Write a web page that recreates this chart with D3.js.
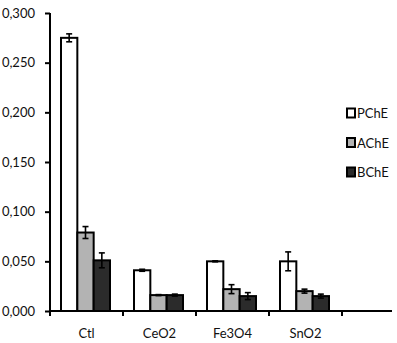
<!DOCTYPE html>
<html>
<head>
<meta charset="utf-8">
<script src="https://cdn.jsdelivr.net/npm/d3@7"></script>
<style>
  body { margin: 0; background: #fff; }
  text { font-family: Lato, "Open Sans", sans-serif; fill: #111; }
</style>
</head>
<body>
<svg id="chart"></svg>
<script>
const categories = ['Ctl', 'CeO2', 'Fe3O4', 'SnO2']
const series = ['PChE', 'AChE', 'BChE']
const pcheValues = [0.275, 0.041, 0.050, 0.050]
const pcheErrors = [0.004, 0.001, 0.0005, 0.0095]
const acheValues = [0.079, 0.016, 0.022, 0.020]
const acheErrors = [0.006, 0.0005, 0.0045, 0.002]
const bcheValues = [0.051, 0.016, 0.015, 0.015]
const bcheErrors = [0.0075, 0.001, 0.0035, 0.002]
const yTicks = [0, 0.05, 0.1, 0.15, 0.2, 0.25, 0.3]

const fills = { PChE: '#ffffff', AChE: '#b3b3b3', BChE: '#2b2b2b' }

const width = 397
const height = 343
const plot = { left: 50, right: 342, axisEnd: 392, top: 13, bottom: 311 }

const svg = d3.select('#chart')
    .attr('width', width)
    .attr('height', height)

const x = d3.scaleBand()
    .domain(categories)
    .range([plot.left, plot.right])

const xInner = d3.scaleBand()
    .domain(series)
    .range([11, 60])

const y = d3.scaleLinear()
    .domain([0, 0.3])
    .range([plot.bottom, plot.top])

const fmt = v => d3.format('.3f')(v).replace('.', ',')

// y axis
const yAxis = svg.append('g')
    .attr('transform', `translate(${plot.left},0)`)
    .call(d3.axisLeft(y).tickValues(yTicks).tickSize(5).tickFormat(fmt))
yAxis.select('.domain').remove()
yAxis.selectAll('.tick line').attr('stroke', '#000').attr('stroke-width', 2)
yAxis.selectAll('.tick text')
    .attr('x', -15)
    .style('font-size', '13px')
    .style('font-family', 'Lato, sans-serif')
    .attr('fill', '#111')

svg.append('line')
    .attr('x1', plot.left).attr('x2', plot.left)
    .attr('y1', y(0.3)).attr('y2', y(0) + 4)
    .attr('stroke', '#000').attr('stroke-width', 2)

// x axis
svg.append('line')
    .attr('x1', plot.left - 1).attr('x2', plot.axisEnd)
    .attr('y1', y(0)).attr('y2', y(0))
    .attr('stroke', '#000').attr('stroke-width', 2)

const boundaries = categories.map(c => x(c)).concat([x(categories[categories.length - 1]) + x.bandwidth()])
svg.selectAll('.xtick')
    .data(boundaries)
    .join('line')
    .attr('class', 'xtick')
    .attr('x1', d => d).attr('x2', d => d)
    .attr('y1', y(0)).attr('y2', y(0) + 5)
    .attr('stroke', '#000').attr('stroke-width', 2)

svg.selectAll('.xlabel')
    .data(categories)
    .join('text')
    .attr('class', 'xlabel')
    .attr('x', d => x(d) + x.bandwidth() / 2)
    .attr('y', 338)
    .attr('text-anchor', 'middle')
    .style('font-size', '13px')
    .text(d => d)

// bars
const rows = []
categories.forEach((c, i) => {
    rows.push({ cat: c, s: 'PChE', v: pcheValues[i], e: pcheErrors[i] })
    rows.push({ cat: c, s: 'AChE', v: acheValues[i], e: acheErrors[i] })
    rows.push({ cat: c, s: 'BChE', v: bcheValues[i], e: bcheErrors[i] })
})

const bars = svg.append('g')
bars.selectAll('rect')
    .data(rows)
    .join('rect')
    .attr('x', d => x(d.cat) + xInner(d.s))
    .attr('y', d => y(d.v))
    .attr('width', xInner.bandwidth())
    .attr('height', d => y(0) - y(d.v))
    .attr('fill', d => fills[d.s])
    .attr('stroke', '#000')
    .attr('stroke-width', 2)

// error bars
const err = svg.append('g').attr('stroke', '#000').attr('stroke-width', 1.6)
rows.forEach(d => {
    const cx = x(d.cat) + xInner(d.s) + xInner.bandwidth() / 2
    err.append('line').attr('x1', cx).attr('x2', cx).attr('y1', y(d.v + d.e)).attr('y2', y(d.v - d.e))
    err.append('line').attr('x1', cx - 3).attr('x2', cx + 3).attr('y1', y(d.v + d.e)).attr('y2', y(d.v + d.e))
    err.append('line').attr('x1', cx - 3).attr('x2', cx + 3).attr('y1', y(d.v - d.e)).attr('y2', y(d.v - d.e))
})

// legend
const legend = svg.append('g').attr('transform', 'translate(347,113)')
const items = legend.selectAll('g')
    .data(series)
    .join('g')
    .attr('transform', (d, i) => `translate(0,${i * 29.5})`)
items.append('rect')
    .attr('x', 0).attr('y', -4.5)
    .attr('width', 8).attr('height', 9)
    .attr('fill', d => fills[d])
    .attr('stroke', '#000')
    .attr('stroke-width', 2)
items.append('text')
    .attr('x', 10)
    .attr('y', 5)
    .style('font-size', '13px')
    .text(d => d)
</script>
</body>
</html>
